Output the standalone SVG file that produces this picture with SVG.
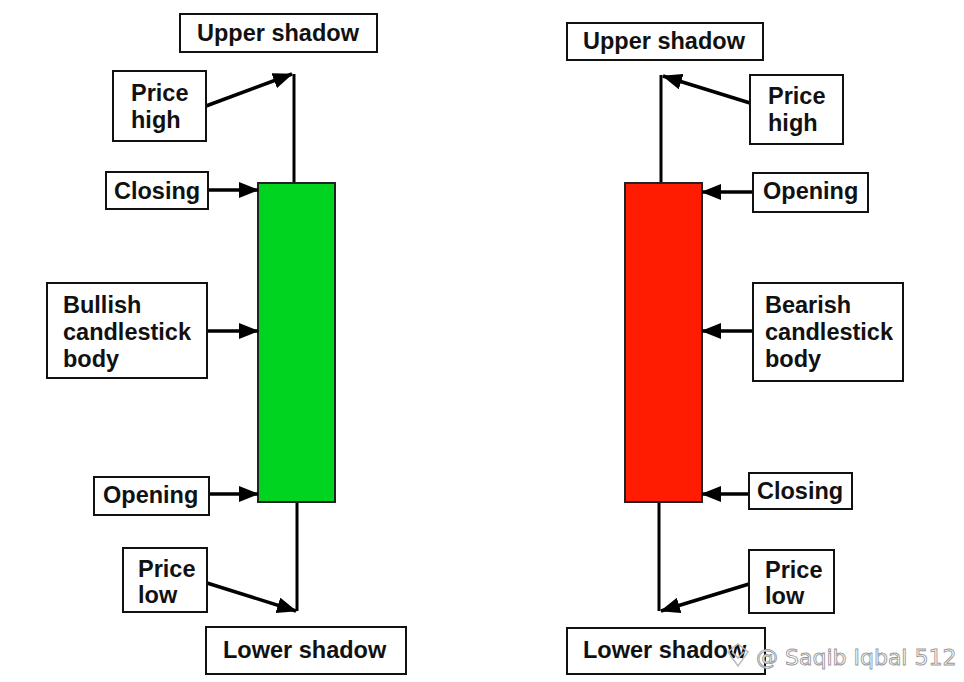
<svg xmlns="http://www.w3.org/2000/svg" width="964" height="682" viewBox="0 0 964 682">
<defs>
<marker id="ah" markerUnits="userSpaceOnUse" markerWidth="20" markerHeight="16" refX="19" refY="8" orient="auto">
<path d="M0,0 L20,8 L0,16 Z" fill="#000"/>
</marker>
<style>
.box{fill:#fff;stroke:#111;stroke-width:2}
.t{font-family:"Liberation Sans",Arial,sans-serif;font-weight:bold;font-size:23.5px;fill:#111}
.ar{stroke:#000;stroke-width:3.5;fill:none;marker-end:url(#ah)}
.wick{stroke:#000;stroke-width:3;fill:none}
.wm{font-family:"DejaVu Sans","Liberation Sans",sans-serif;font-size:22px;fill:#fff;stroke:#9a9a9a;stroke-width:0.9}
</style>
</defs>
<rect width="964" height="682" fill="#fff"/>

<g id="candles">
<line class="wick" x1="294" y1="74" x2="294" y2="184"/>
<line class="wick" x1="297" y1="501" x2="297" y2="611"/>
<rect id="green-body" x="258" y="183" width="77" height="319" fill="#00d420" stroke="#222" stroke-width="2"/>
<line class="wick" x1="661" y1="75" x2="661" y2="184"/>
<line class="wick" x1="659" y1="501" x2="659" y2="611"/>
<rect id="red-body" x="625" y="183" width="77" height="319" fill="#ff1c00" stroke="#222" stroke-width="2"/>
</g>

<g id="connectors">
<line class="ar" x1="206" y1="106" x2="292" y2="74"/>
<line class="ar" x1="208" y1="190" x2="258" y2="190"/>
<line class="ar" x1="207" y1="331" x2="258" y2="331"/>
<line class="ar" x1="209" y1="494" x2="258" y2="494"/>
<line class="ar" x1="207" y1="583" x2="296" y2="611"/>
<line class="ar" x1="750" y1="103" x2="663" y2="76"/>
<line class="ar" x1="753" y1="192" x2="702" y2="192"/>
<line class="ar" x1="753" y1="331" x2="702" y2="331"/>
<line class="ar" x1="749" y1="494" x2="702" y2="494"/>
<line class="ar" x1="749" y1="584" x2="661" y2="611"/>
</g>

<g id="l-upper"><rect class="box" x="180" y="14" width="197" height="38"/><text class="t" x="197" y="41">Upper shadow</text></g>
<g id="l-high"><rect class="box" x="113" y="71" width="93" height="70"/><text class="t" x="131" y="101">Price</text><text class="t" x="131" y="128">high</text></g>
<g id="l-closing"><rect class="box" x="106" y="172" width="102" height="37"/><text class="t" x="114" y="199">Closing</text></g>
<g id="l-body"><rect class="box" x="47" y="283" width="160" height="95"/><text class="t" x="63" y="313">Bullish</text><text class="t" x="63" y="340">candlestick</text><text class="t" x="63" y="367">body</text></g>
<g id="l-opening"><rect class="box" x="94" y="477" width="115" height="38"/><text class="t" x="103" y="503">Opening</text></g>
<g id="l-low"><rect class="box" x="123" y="548" width="84" height="64"/><text class="t" x="138" y="577">Price</text><text class="t" x="138" y="603">low</text></g>
<g id="l-lower"><rect class="box" x="206" y="627" width="200" height="47"/><text class="t" x="223" y="658">Lower shadow</text></g>

<g id="r-upper"><rect class="box" x="567" y="23" width="196" height="37"/><text class="t" x="583" y="49">Upper shadow</text></g>
<g id="r-high"><rect class="box" x="750" y="75" width="93" height="69"/><text class="t" x="768" y="104">Price</text><text class="t" x="768" y="131">high</text></g>
<g id="r-opening"><rect class="box" x="753" y="173" width="115" height="39"/><text class="t" x="763" y="199">Opening</text></g>
<g id="r-body"><rect class="box" x="753" y="283" width="150" height="98"/><text class="t" x="765" y="313">Bearish</text><text class="t" x="765" y="340">candlestick</text><text class="t" x="765" y="367">body</text></g>
<g id="r-closing"><rect class="box" x="749" y="473" width="103" height="36"/><text class="t" x="757" y="499">Closing</text></g>
<g id="r-low"><rect class="box" x="749" y="550" width="85" height="63"/><text class="t" x="765" y="578">Price</text><text class="t" x="765" y="604">low</text></g>
<g id="r-lower"><rect class="box" x="567" y="628" width="198" height="46"/><text class="t" x="583" y="658">Lower shadow</text></g>

<g id="watermark">
<path d="M728,652 L738,644 L748,652 L738,666 Z M732,652 L738,658 L744,652" fill="none" stroke="#bbb" stroke-width="1.5"/>
<text class="wm" x="756" y="665">@ Saqib Iqbal 512</text>
</g>
</svg>
